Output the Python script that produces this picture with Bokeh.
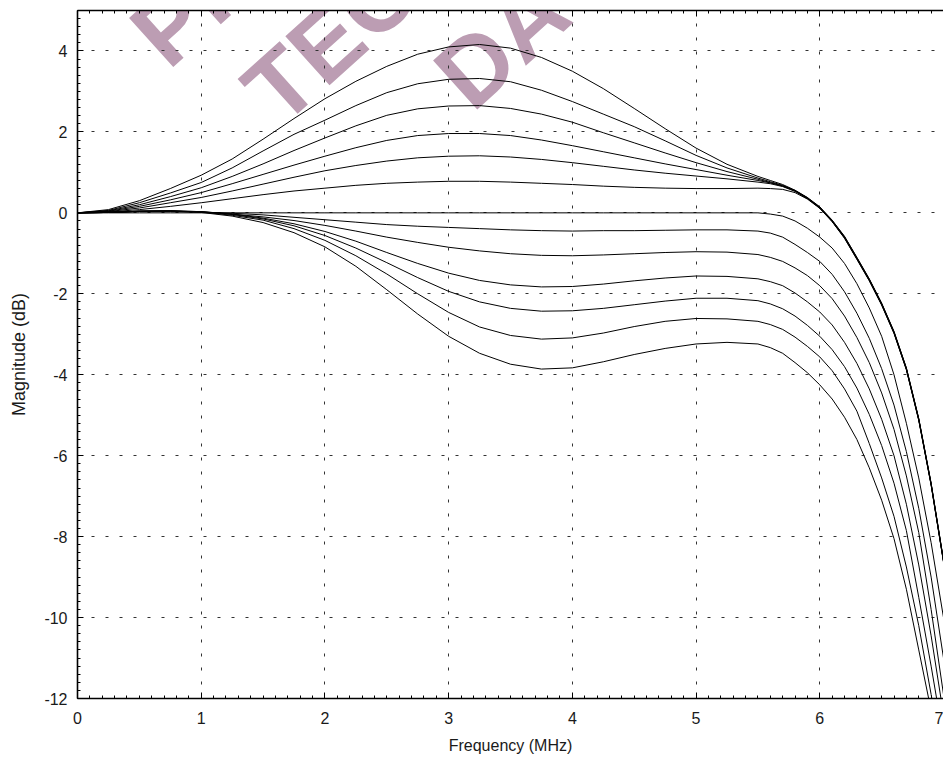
from bokeh.plotting import figure
from bokeh.models import Range1d, LinearAxis, SingleIntervalTicker, Label
from bokeh.embed import file_html
from bokeh.resources import INLINE

# ---------------- data ----------------
freq_mhz = [0, 0.25, 0.5, 0.75, 1.0, 1.25, 1.5, 1.75, 2.0, 2.25, 2.5, 2.75, 3.0,
            3.25, 3.5, 3.75, 4.0, 4.25, 4.5, 4.75, 5.0, 5.25, 5.5,
            5.6, 5.7, 5.8, 5.9, 6.0, 6.1, 6.2, 6.3, 6.4, 6.5, 6.6, 6.7, 6.8, 6.9, 7.0]

boost_1 = [0, 0.08, 0.3, 0.6, 0.93, 1.33, 1.82, 2.33, 2.82, 3.25, 3.62, 3.92, 4.1,
           4.16, 4.07, 3.84, 3.5, 3.07, 2.58, 2.08, 1.6, 1.2, 0.9,
           0.8, 0.7, 0.56, 0.38, 0.15, -0.18, -0.58, -1.1, -1.63, -2.23, -2.93, -3.83, -5.08, -6.68, -8.58]
boost_2 = [0, 0.06, 0.25, 0.49, 0.75, 1.11, 1.53, 1.94, 2.29, 2.65, 2.97, 3.19, 3.3,
           3.32, 3.24, 3.03, 2.75, 2.44, 2.13, 1.78, 1.42, 1.11, 0.86,
           0.77, 0.68, 0.55, 0.37, 0.14, -0.19, -0.59, -1.11, -1.64, -2.24, -2.94, -3.84, -5.09, -6.69, -8.59]
boost_3 = [0, 0.05, 0.2, 0.4, 0.62, 0.9, 1.21, 1.54, 1.85, 2.15, 2.41, 2.57, 2.64,
           2.65, 2.58, 2.44, 2.24, 1.98, 1.73, 1.48, 1.24, 1.02, 0.83,
           0.75, 0.67, 0.55, 0.37, 0.13, -0.2, -0.6, -1.12, -1.65, -2.25, -2.95, -3.85, -5.1, -6.7, -8.6]
boost_4 = [0, 0.04, 0.16, 0.32, 0.5, 0.72, 0.95, 1.18, 1.4, 1.61, 1.79, 1.91, 1.96,
           1.96, 1.91, 1.8, 1.66, 1.51, 1.36, 1.21, 1.07, 0.93, 0.8,
           0.74, 0.66, 0.54, 0.36, 0.12, -0.21, -0.61, -1.13, -1.66, -2.26, -2.96, -3.86, -5.11, -6.71, -8.61]
boost_5 = [0, 0.03, 0.12, 0.25, 0.38, 0.54, 0.71, 0.88, 1.04, 1.17, 1.28, 1.36, 1.4,
           1.41, 1.38, 1.32, 1.24, 1.15, 1.06, 0.98, 0.91, 0.84, 0.76,
           0.72, 0.65, 0.53, 0.35, 0.12, -0.21, -0.62, -1.14, -1.67, -2.27, -2.97, -3.87, -5.12, -6.72, -8.62]
boost_6 = [0, 0.02, 0.08, 0.16, 0.25, 0.35, 0.45, 0.54, 0.61, 0.68, 0.73, 0.76, 0.78,
           0.78, 0.76, 0.73, 0.7, 0.66, 0.63, 0.61, 0.6, 0.6, 0.61,
           0.6, 0.58, 0.5, 0.34, 0.11, -0.22, -0.63, -1.15, -1.68, -2.28, -2.98, -3.88, -5.13, -6.73, -8.63]
flat_0 = [0, 0, 0, 0, 0, 0, 0, 0, 0, 0, 0, 0, 0,
          0, 0, 0, 0, 0, 0, 0, 0, 0, 0,
          -0.03, -0.08, -0.2, -0.38, -0.6, -0.87, -1.25, -1.75, -2.35, -3.05, -4.0, -5.2, -6.55, -8.15, -10.0]
cut_1 = [0, 0.01, 0.03, 0.03, 0.02, -0.01, -0.05, -0.11, -0.17, -0.23, -0.29, -0.33, -0.36,
         -0.39, -0.42, -0.44, -0.45, -0.44, -0.44, -0.43, -0.42, -0.42, -0.45,
         -0.5, -0.6, -0.78, -0.98, -1.2, -1.52, -1.95, -2.48, -3.1, -3.85, -4.75, -5.9, -7.3, -9.0, -11.0]
cut_2 = [0, 0.01, 0.04, 0.04, 0.02, -0.03, -0.1, -0.19, -0.31, -0.45, -0.6, -0.73, -0.85,
         -0.94, -1.01, -1.05, -1.06, -1.04, -1.01, -0.98, -0.96, -0.97, -1.03,
         -1.1, -1.2, -1.36, -1.55, -1.8, -2.12, -2.55, -3.08, -3.7, -4.45, -5.35, -6.5, -7.9, -9.8, -11.9]
cut_3 = [0, 0.01, 0.04, 0.05, 0.03, -0.03, -0.13, -0.27, -0.46, -0.7, -0.98, -1.25, -1.49,
         -1.67, -1.78, -1.83, -1.82, -1.76, -1.68, -1.61, -1.56, -1.57, -1.63,
         -1.7, -1.8, -1.98, -2.2, -2.45, -2.77, -3.2, -3.72, -4.35, -5.1, -6.0, -7.2, -8.7, -10.45, -12.4]
cut_4 = [0, 0.01, 0.04, 0.05, 0.03, -0.04, -0.15, -0.32, -0.56, -0.87, -1.23, -1.6, -1.94,
         -2.2, -2.36, -2.43, -2.42, -2.36, -2.27, -2.18, -2.11, -2.11, -2.17,
         -2.25, -2.37, -2.55, -2.78, -3.05, -3.38, -3.8, -4.33, -4.98, -5.75, -6.68, -7.85, -9.5, -11.2, -13.0]
cut_5 = [0, 0.01, 0.04, 0.05, 0.02, -0.06, -0.18, -0.39, -0.68, -1.06, -1.51, -2.0, -2.46,
         -2.82, -3.03, -3.12, -3.09, -2.97, -2.81, -2.68, -2.61, -2.62, -2.68,
         -2.76, -2.88, -3.07, -3.3, -3.56, -3.9, -4.35, -4.9, -5.7, -6.55, -7.5, -8.75, -10.2, -11.9, -13.6]
cut_6 = [0, 0.01, 0.04, 0.05, 0.01, -0.08, -0.24, -0.49, -0.84, -1.32, -1.9, -2.5, -3.05,
         -3.47, -3.74, -3.86, -3.83, -3.68, -3.5, -3.35, -3.24, -3.2, -3.24,
         -3.33, -3.47, -3.7, -3.95, -4.25, -4.6, -5.05, -5.6, -6.3, -7.1, -8.05, -9.3, -10.8, -12.3, -13.9]

curves = [boost_1, boost_2, boost_3, boost_4, boost_5, boost_6, flat_0,
          cut_1, cut_2, cut_3, cut_4, cut_5, cut_6]

x_ticks = [0, 1, 2, 3, 4, 5, 6, 7]
y_ticks = [-12, -10, -8, -6, -4, -2, 0, 2, 4]
x_title = "Frequency (MHz)"
y_title = "Magnitude (dB)"
watermark_lines = ["PRELIMINARY", "TECHNICAL", "DATA"]
# anchor (data coords) of each watermark line centre
watermark_x = [2.53, 3.13, 3.77]
watermark_y = [9.55, 7.28, 5.15]

# ---------------- figure ----------------
FONT = "Liberation Sans"

p = figure(width=943, height=760, output_backend="svg", toolbar_location=None,
           x_range=Range1d(0, 7), y_range=Range1d(-12, 5),
           min_border_left=77, min_border_right=0, min_border_top=10,
           min_border_bottom=62)
p.background_fill_color = "white"
p.border_fill_color = "white"
p.outline_line_color = None

xt = SingleIntervalTicker(interval=1, num_minor_ticks=10)
yt = SingleIntervalTicker(interval=2, num_minor_ticks=10)

for ax, tk, ticks in ((p.xaxis[0], xt, x_ticks), (p.yaxis[0], yt, y_ticks)):
    ax.ticker = tk
    ax.major_label_overrides = {t: str(t) for t in ticks}
    ax.axis_line_color = "black"
    ax.axis_line_width = 1.6
    ax.major_tick_in = 6
    ax.major_tick_out = 0
    ax.minor_tick_in = 3
    ax.minor_tick_out = 0
    ax.major_tick_line_color = "black"
    ax.minor_tick_line_color = "black"
    ax.major_label_text_font = FONT
    ax.major_label_text_font_size = "16px"
    ax.major_label_text_color = "#1a1a1a"
    ax.axis_label_text_font = FONT
    ax.axis_label_text_font_style = "normal"
    ax.axis_label_text_color = "#1a1a1a"

p.xaxis.axis_label = x_title
p.xaxis.major_label_standoff = 13
p.xaxis.axis_label_standoff = 10
p.xaxis.axis_label_text_font_size = "16px"

p.yaxis.axis_label = y_title
p.yaxis.major_label_standoff = 10
p.yaxis.axis_label_standoff = 12
p.yaxis.axis_label_text_font_size = "18px"

top = LinearAxis(ticker=xt, major_label_overrides={t: "" for t in x_ticks},
                 major_label_text_font_size="1px", major_label_standoff=0,
                 axis_line_color="black", axis_line_width=1.6,
                 major_tick_in=6, major_tick_out=0, minor_tick_in=3, minor_tick_out=0)
p.add_layout(top, "above")

for g, tk in ((p.xgrid[0], xt), (p.ygrid[0], yt)):
    g.ticker = tk
    g.grid_line_color = "#333333"
    g.grid_line_width = 1
    g.grid_line_dash = "3 11"

# watermark (drawn below grid and curves)
for txt, wx, wy in zip(watermark_lines, watermark_x, watermark_y):
    p.add_layout(Label(x=wx, y=wy, text=txt, angle=42, angle_units="deg",
                       text_font=FONT, text_font_style="bold", text_font_size="96px",
                       text_color="#bc9db3", text_align="center",
                       text_baseline="alphabetic", level="image"))

for vals in curves:
    p.line(freq_mhz, vals, line_color="black", line_width=1)

open("out.html", "w").write(file_html(p, INLINE))
